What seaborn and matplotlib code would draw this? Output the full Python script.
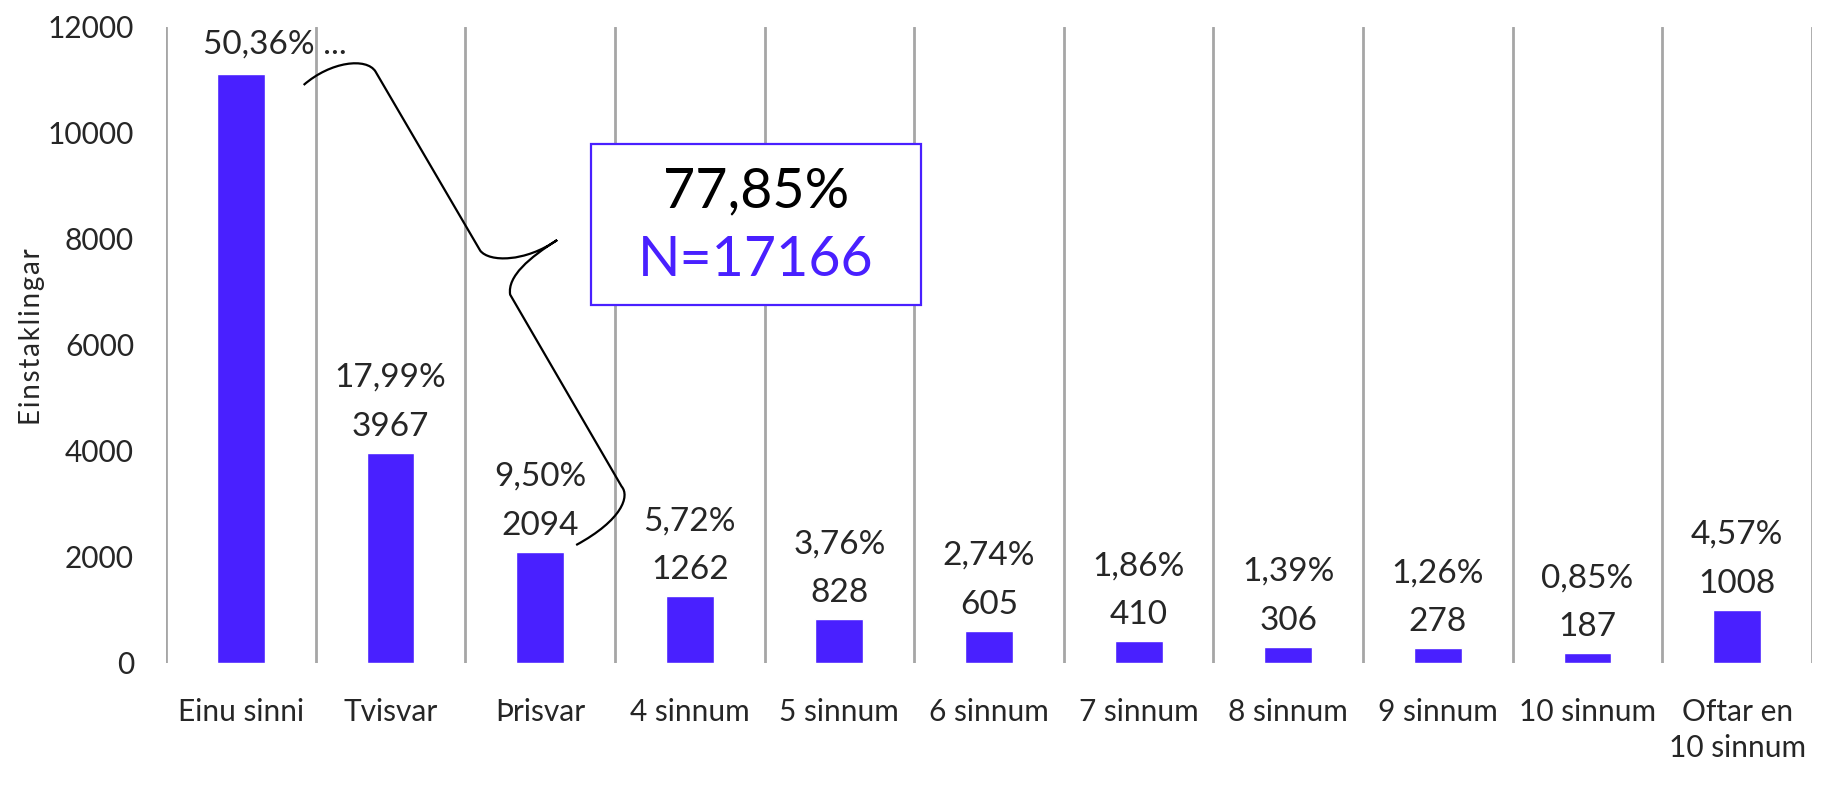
import numpy as np
import pandas as pd
import matplotlib
matplotlib.use("Agg")
import matplotlib.pyplot as plt
import seaborn as sns
from matplotlib.path import Path
from matplotlib.patches import PathPatch, Rectangle

categories = ["Einu sinni", "Tvisvar", "Þrisvar", "4 sinnum", "5 sinnum", "6 sinnum",
              "7 sinnum", "8 sinnum", "9 sinnum", "10 sinnum", "Oftar en\n10 sinnum"]
values = [11105, 3967, 2094, 1262, 828, 605, 410, 306, 278, 187, 1008]
pct_labels = ["50,36%", "17,99%", "9,50%", "5,72%", "3,76%", "2,74%",
              "1,86%", "1,39%", "1,26%", "0,85%", "4,57%"]
y_ticks = [0, 2000, 4000, 6000, 8000, 10000, 12000]
box_pct = "77,85%"
box_n = "N=17166"
y_label = "Einstaklingar"

BLUE = "#4920FF"

sns.set_theme(style="white")
plt.rcParams["font.family"] = ["Lato", "DejaVu Sans"]

fig = plt.figure(figsize=(18.25, 7.87), dpi=100)
ax = fig.add_axes([166 / 1825, 1 - 663 / 787, (1812 - 166) / 1825, (663 - 27) / 787])

df = pd.DataFrame({"cat": categories, "val": values})
sns.barplot(data=df, x="cat", y="val", color=BLUE, saturation=1, width=0.32, ax=ax)

ax.set_xlim(-0.5, len(categories) - 0.5)
ax.set_ylim(0, 12000)
ax.set_yticks(y_ticks)
ax.set_yticklabels([str(t) for t in y_ticks], fontsize=21.5)
ax.set_xticks(range(len(categories)))
ax.set_xticklabels(categories, fontsize=21.5, linespacing=1.35)
ax.tick_params(axis="y", length=0, pad=23)
ax.tick_params(axis="x", length=0, pad=25)
ax.set_xticks(np.arange(-0.5, len(categories)), minor=True)
ax.tick_params(which="minor", length=0)
ax.grid(False)
ax.grid(which="minor", axis="x", color="#A6A6A6", linewidth=2)
for s in ax.spines.values():
    s.set_visible(False)
ax.set_xlabel("")
ax.set_ylabel("")
spaced = "\u200a".join(y_label)
fig.text(32 / 1825, 1 - 337 / 787, spaced, rotation=90, ha="center", va="center", fontsize=20)

# data labels
for i, (v, p) in enumerate(zip(values, pct_labels)):
    if i == 0:
        ax.annotate(p + " ...", (i, 12000), xytext=(34, -18), textcoords="offset pixels",
                    ha="center", va="center", fontsize=24)
        continue
    ax.annotate(str(v), (i, v), xytext=(0, 26), textcoords="offset pixels",
                ha="center", va="center", fontsize=24)
    ax.annotate(p, (i, v), xytext=(0, 75), textcoords="offset pixels",
                ha="center", va="center", fontsize=24)

# curly brace
verts = [
    (0.42, 10906),
    (0.60, 11350), (0.84, 11430), (0.90, 11160),
    (1.60, 7780),
    (1.66, 7560), (1.90, 7560), (2.114, 7981),
    (1.93, 7650), (1.78, 7300), (1.80, 6950),
    (2.545, 3330),
    (2.60, 3150), (2.55, 2700), (2.241, 2226),
]
codes = [Path.MOVETO,
         Path.CURVE4, Path.CURVE4, Path.CURVE4,
         Path.LINETO,
         Path.CURVE4, Path.CURVE4, Path.CURVE4,
         Path.CURVE4, Path.CURVE4, Path.CURVE4,
         Path.LINETO,
         Path.CURVE4, Path.CURVE4, Path.CURVE4]
ax.add_patch(PathPatch(Path(verts, codes), fill=False, edgecolor="black", linewidth=1.6,
                       clip_on=False, zorder=5))

# box
fig.patches.append(Rectangle((591 / 1825, 1 - 305 / 787), 330 / 1825, 161 / 787,
                             transform=fig.transFigure, facecolor="white",
                             edgecolor=BLUE, linewidth=1.6, zorder=6))
fig.text(756 / 1825, 1 - 192 / 787, box_pct, ha="center", va="center", fontsize=40,
         color="black", zorder=7)
fig.text(756 / 1825, 1 - 260 / 787, box_n, ha="center", va="center", fontsize=40,
         color=BLUE, zorder=7)

fig.savefig("out.png", dpi=100)
